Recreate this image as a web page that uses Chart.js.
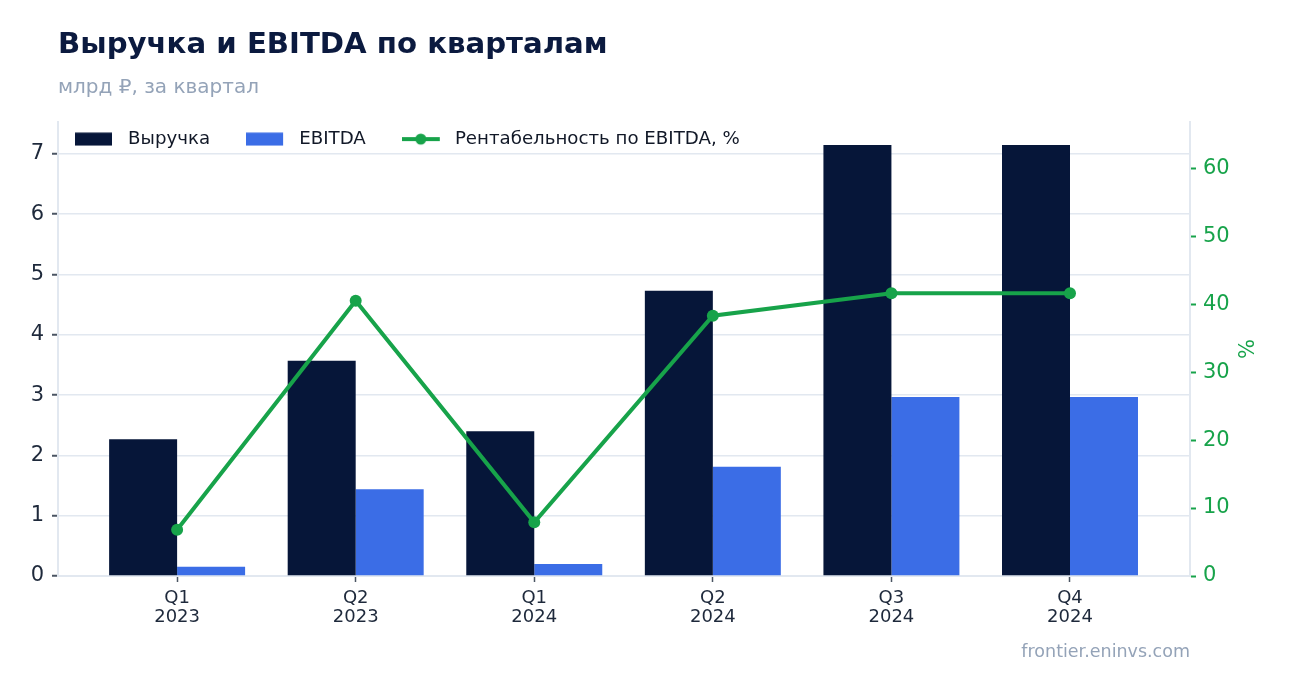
<!DOCTYPE html>
<html>
<head>
<meta charset="utf-8">
<script src="https://cdn.jsdelivr.net/npm/chart.js@4.4.1/dist/chart.umd.min.js"></script>
<style>
html,body{margin:0;padding:0;background:#fff;}
body{width:1289px;height:693px;position:relative;overflow:hidden;font-family:"DejaVu Sans",sans-serif;}
#c{position:absolute;left:0;top:0;}
.title{position:absolute;left:58px;top:29px;font-size:29.2px;line-height:1;font-weight:bold;color:#0b1a3f;white-space:nowrap;}
.sub{position:absolute;left:58px;top:76px;font-size:20px;line-height:1;color:#94a3b8;white-space:nowrap;}
.foot{position:absolute;right:99px;top:643px;font-size:17.5px;line-height:1;color:#94a3b8;white-space:nowrap;}
</style>
</head>
<body>
<canvas id="c" width="1289" height="693"></canvas>
<div class="title">Выручка и EBITDA по кварталам</div>
<div class="sub">млрд ₽, за квартал</div>
<div class="foot">frontier.eninvs.com</div>
<script>
const categories = [['Q1','2023'],['Q2','2023'],['Q1','2024'],['Q2','2024'],['Q3','2024'],['Q4','2024']];
const revenue = [2.27, 3.57, 2.40, 4.73, 7.15, 7.15];
const ebitda = [0.155, 1.44, 0.20, 1.81, 2.97, 2.97];
const margin = [6.8, 40.5, 7.9, 38.3, 41.6, 41.6];
const leftTicks = [0,1,2,3,4,5,6,7];
const rightTicks = [0,10,20,30,40,50,60];
const seriesNames = ['Выручка','EBITDA','Рентабельность по EBITDA, %'];

const DARK = '#061639', BLUE = '#3b6de6', GREEN = '#17a34a', GRID = '#e2e8f0', TICK = '#4b5563', TXT = '#1e293b';

function makeIcon(kind, color){
  const c = document.createElement('canvas');
  c.width = 44; c.height = 14;
  const g = c.getContext('2d');
  if (kind === 'rect') {
    g.fillStyle = color; g.fillRect(0, 0.5, 37, 13);
  } else {
    g.strokeStyle = color; g.lineWidth = 4;
    g.beginPath(); g.moveTo(0, 7); g.lineTo(38, 7); g.stroke();
    g.fillStyle = color; g.beginPath(); g.arc(19, 7, 5.5, 0, Math.PI*2); g.fill();
  }
  return c;
}
const icons = [makeIcon('rect', DARK), makeIcon('rect', BLUE), makeIcon('line', GREEN)];

const legendPos = {
  id: 'legendPos',
  beforeInit(chart){
    const l = chart.legend; if (!l) return;
    const f = l.fit;
    l.fit = function(){ f.call(this); this.height = 0; };
  },
  afterLayout(chart){
    const l = chart.legend; if (!l) return;
    l.left = 75 - 36; l.right = 1190; l.top = 94; l.bottom = l.top + 60;
  }
};

new Chart(document.getElementById('c'), {
  type: 'bar',
  data: {
    datasets: [
      { type:'bar', label: seriesNames[0], data: revenue.map((v,i)=>({x:i, y:v})), backgroundColor: DARK,
        yAxisID:'y', categoryPercentage:0.7615, barPercentage:1, order:1 },
      { type:'bar', label: seriesNames[1], data: ebitda.map((v,i)=>({x:i, y:v})), backgroundColor: BLUE,
        yAxisID:'y', categoryPercentage:0.7615, barPercentage:1, order:1 },
      { type:'line', label: seriesNames[2], data: margin.map((v,i)=>({x:i, y:v})), borderColor: GREEN,
        backgroundColor: GREEN, borderWidth:4, pointRadius:6, pointBorderWidth:0, pointBackgroundColor: GREEN,
        yAxisID:'y1', order:0, tension:0 }
    ]
  },
  options: {
    responsive:false, animation:false,
    layout:{ padding:{ left:0, right:29, top:122, bottom:57 } },
    plugins:{
      tooltip:{ enabled:false },
      legend:{
        display:true, position:'top', align:'start',
        labels:{
          usePointStyle:true, pointStyleWidth:44, padding:36, color:'#111827',
          font:{ family:'"DejaVu Sans"', size:18.2 },
          sort:(a,b)=>a.datasetIndex-b.datasetIndex,
          generateLabels(chart){
            return Chart.defaults.plugins.legend.labels.generateLabels(chart).map(l=>Object.assign(l,{pointStyle:icons[l.datasetIndex]}));
          }
        }
      }
    },
    scales:{
      x:{
        type:'linear', min:-0.667, max:5.672, offset:false,
        grid:{ display:true, offset:false, drawOnChartArea:false, drawTicks:true, tickLength:6, tickColor:TICK, tickWidth:1.5 },
        border:{ display:true, color:GRID, width:2 },
        afterBuildTicks: s => { s.ticks = categories.map((_,i)=>({value:i})); },
        ticks:{ callback: v => categories[v], font:{ family:'"DejaVu Sans"', size:18, lineHeight:1.1 }, color:TXT, padding:6, maxRotation:0, autoSkip:false },
        afterFit: s => { s.height = 60; }
      },
      y:{
        position:'left', min:0, max:7.53,
        afterBuildTicks: s => { s.ticks = leftTicks.map(v=>({value:v})); },
        grid:{ color:GRID, lineWidth:1.5, tickColor:TICK, tickLength:6, tickWidth:2 },
        border:{ color:GRID, width:2 },
        ticks:{ font:{ family:'"DejaVu Sans"', size:21 }, color:TXT, padding:8 },
        afterFit: s => { s.width = 58; }
      },
      y1:{
        position:'right', min:0, max:66.8,
        afterBuildTicks: s => { s.ticks = rightTicks.map(v=>({value:v})); },
        grid:{ drawOnChartArea:false, tickColor:GREEN, tickLength:6, tickWidth:2 },
        border:{ color:GRID, width:2 },
        ticks:{ font:{ family:'"DejaVu Sans"', size:21 }, color:GREEN, padding:7 },
        title:{ display:true, text:'%', color:GREEN, font:{ family:'"DejaVu Sans"', size:21 }, padding:4 },
        afterFit: s => { s.width = 70; }
      }
    }
  },
  plugins:[legendPos]
});
</script>
</body>
</html>
